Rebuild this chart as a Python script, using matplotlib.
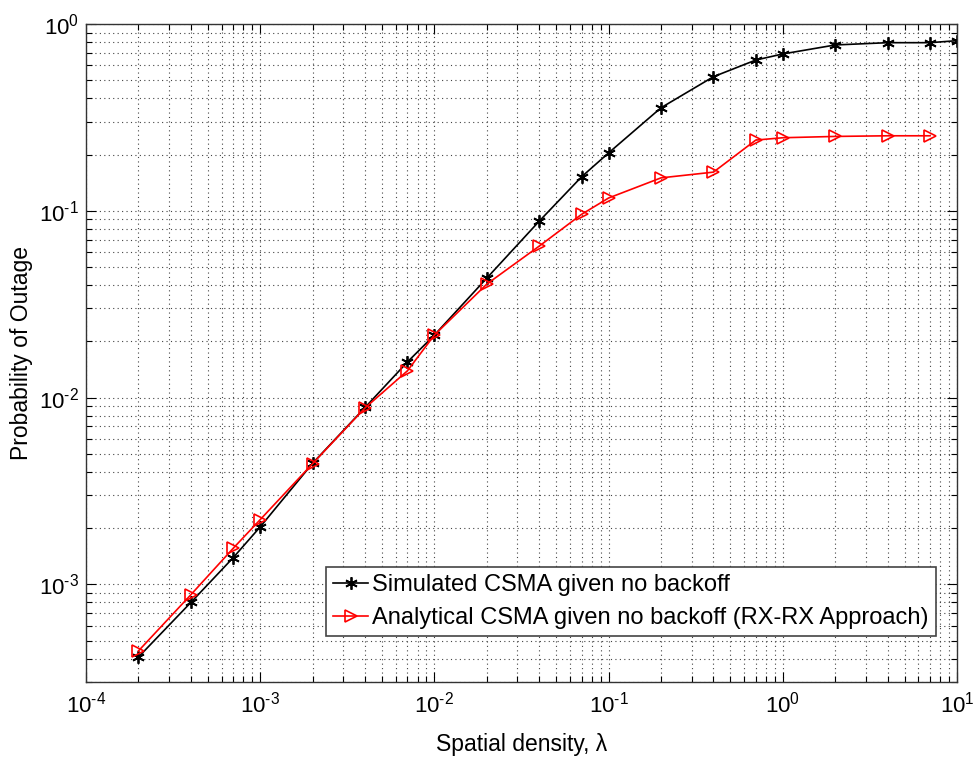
import matplotlib
matplotlib.use("Agg")
import matplotlib.pyplot as plt
import numpy as np
from matplotlib.ticker import LogLocator, NullFormatter, FuncFormatter

plt.rcParams['font.family'] = ['Liberation Sans', 'DejaVu Sans']
plt.rcParams['mathtext.fontset'] = 'custom'
plt.rcParams['mathtext.rm'] = 'Liberation Sans'
plt.rcParams['axes.unicode_minus'] = False

density_sim = [2e-4, 4e-4, 7e-4, 1e-3, 2e-3, 4e-3, 7e-3, 1e-2, 2e-2, 4e-2, 7e-2,
               0.1, 0.2, 0.4, 0.7, 1, 2, 4, 7, 10]
outage_sim = [4.08e-4, 8.0e-4, 1.39e-3, 2.03e-3, 4.45e-3, 8.85e-3, 1.55e-2, 2.16e-2,
              4.36e-2, 8.8e-2, 0.152, 0.204, 0.356, 0.522, 0.641, 0.691, 0.772,
              0.794, 0.794, 0.814]

density_ana = [2e-4, 4e-4, 7e-4, 1e-3, 2e-3, 4e-3, 7e-3, 1e-2, 2e-2, 4e-2, 7e-2,
               0.1, 0.2, 0.4, 0.7, 1, 2, 4, 7]
outage_ana = [4.4e-4, 8.8e-4, 1.56e-3, 2.22e-3, 4.43e-3, 8.8e-3, 1.39e-2, 2.16e-2,
              4.05e-2, 6.47e-2, 0.0957, 0.117, 0.150, 0.161, 0.239, 0.246, 0.250,
              0.252, 0.252]

label_sim = "Simulated CSMA given no backoff"
label_ana = "Analytical CSMA given no backoff (RX-RX Approach)"
xlabel = "Spatial density, λ"
ylabel = "Probability of Outage"


def pow_label(v, pos):
    e = int(np.round(np.log10(v)))
    if e < 0:
        return r'$\mathdefault{10^{\text{-}%d}}$' % (-e)
    return r'$\mathdefault{10^{%d}}$' % e


fig = plt.figure(figsize=(9.74, 7.61), dpi=100)
ax = fig.add_axes([0.0883, 0.1038, 0.8942, 0.8647])

ax.plot(density_sim, outage_sim, color='black', lw=1.2, marker=(6, 2, 0),
        markersize=9, markeredgewidth=1.3, label=label_sim)
ax.plot(density_ana, outage_ana, color='red', lw=1.2, marker='>',
        markersize=9, markerfacecolor='none', markeredgewidth=1.2, label=label_ana)

ax.set_xscale('log')
ax.set_yscale('log')
ax.set_xlim(1e-4, 10)
ax.set_ylim(3e-4, 1)

ax.xaxis.set_major_locator(LogLocator(base=10, numticks=10))
ax.xaxis.set_minor_locator(LogLocator(base=10, subs=range(2, 10), numticks=20))
ax.yaxis.set_major_locator(LogLocator(base=10, numticks=10))
ax.yaxis.set_minor_locator(LogLocator(base=10, subs=range(2, 10), numticks=20))
ax.xaxis.set_major_formatter(FuncFormatter(pow_label))
ax.yaxis.set_major_formatter(FuncFormatter(pow_label))
ax.xaxis.set_minor_formatter(NullFormatter())
ax.yaxis.set_minor_formatter(NullFormatter())

ax.grid(True, which='major', linestyle=(0, (1, 3)), color='#444444', lw=0.8)
ax.grid(True, which='minor', linestyle=(0, (1, 3)), color='#444444', lw=0.8)

ax.tick_params(which='both', direction='in', top=True, right=True, labelsize=16,
               width=0.8)
ax.tick_params(which='major', length=7)
ax.tick_params(which='minor', length=4)
ax.tick_params(axis='x', which='major', pad=7)
ax.tick_params(axis='y', which='major', pad=5)
for s in ax.spines.values():
    s.set_linewidth(1.0)
    s.set_color('#333333')

ax.set_xlabel(xlabel, fontsize=16.5)
ax.set_ylabel(ylabel, fontsize=16.5)
ax.xaxis.set_label_coords(0.5, -0.077)
ax.yaxis.set_label_coords(-0.061, 0.5)

leg = ax.legend(loc='lower right', bbox_to_anchor=(0.976, 0.070), borderaxespad=0,
                fontsize=17, fancybox=False, framealpha=1, edgecolor='#444444',
                handlelength=1.5, handletextpad=0.17, borderpad=0.3,
                labelspacing=0.47)
leg.get_frame().set_linewidth(1.2)

fig.savefig("out.png", dpi=100)
